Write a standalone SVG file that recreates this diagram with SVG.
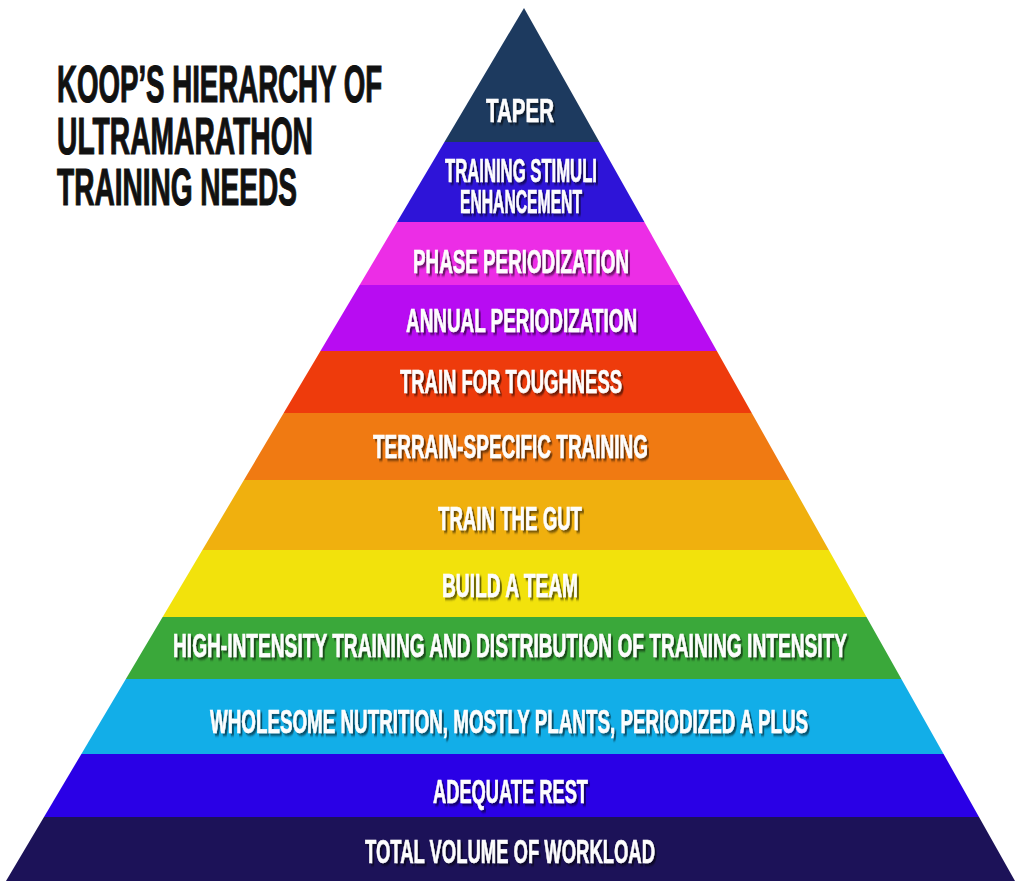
<svg xmlns="http://www.w3.org/2000/svg" width="1024" height="884" viewBox="0 0 1024 884">
<defs>
<clipPath id="tri"><polygon points="524,8 6,881 1015,881"/></clipPath>
<filter id="sh" x="-5%" y="-30%" width="110%" height="160%">
<feDropShadow dx="3.6" dy="2.5" stdDeviation="1.2" flood-color="#000" flood-opacity="0.55"/>
</filter>
<style>
.lbl{font-family:"Liberation Sans",Arial,sans-serif;font-weight:bold;font-size:33px;fill:#fdfdfd;stroke:#fdfdfd;stroke-width:0.6px;text-anchor:middle;filter:url(#sh)}
.ttl{font-family:"Liberation Sans",Arial,sans-serif;font-weight:bold;font-size:52px;fill:#111;stroke:#111;stroke-width:1.2px}
</style>
</defs>
<rect width="1024" height="884" fill="#fff"/>
<g id="title">
<text class="ttl" transform="translate(57,102) scale(0.535,1)" textLength="607.5" lengthAdjust="spacingAndGlyphs">KOOP’S HIERARCHY OF</text>
<text class="ttl" transform="translate(57,154) scale(0.535,1)" textLength="478.5" lengthAdjust="spacingAndGlyphs">ULTRAMARATHON</text>
<text class="ttl" transform="translate(57,205) scale(0.535,1)" textLength="448.6" lengthAdjust="spacingAndGlyphs">TRAINING NEEDS</text>
</g>
<g id="pyramid" clip-path="url(#tri)">
<g id="taper"><rect x="0" y="0" width="1024" height="142" fill="#1d3a5f"/></g>
<g id="stimuli"><rect x="0" y="142" width="1024" height="80" fill="#2e14d8"/></g>
<g id="phase"><rect x="0" y="222" width="1024" height="63" fill="#ec2de6"/></g>
<g id="annual"><rect x="0" y="285" width="1024" height="66" fill="#b80cf2"/></g>
<g id="toughness"><rect x="0" y="351" width="1024" height="62" fill="#ee3b0c"/></g>
<g id="terrain"><rect x="0" y="413" width="1024" height="67" fill="#f07a12"/></g>
<g id="gut"><rect x="0" y="480" width="1024" height="70" fill="#f0b00e"/></g>
<g id="team"><rect x="0" y="550" width="1024" height="67" fill="#f2e20c"/></g>
<g id="hit"><rect x="0" y="617" width="1024" height="62" fill="#3aa83a"/></g>
<g id="nutrition"><rect x="0" y="679" width="1024" height="75" fill="#12aee8"/></g>
<g id="rest"><rect x="0" y="754" width="1024" height="63" fill="#2a00e6"/></g>
<g id="volume"><rect x="0" y="817" width="1024" height="64" fill="#1c1258"/></g>
</g>
<g id="labels">
<text class="lbl" transform="translate(520,122) scale(0.56,1)" textLength="121.4" lengthAdjust="spacingAndGlyphs">TAPER</text>
<text class="lbl" transform="translate(521,182) scale(0.56,1)" textLength="271.4" lengthAdjust="spacingAndGlyphs">TRAINING STIMULI</text>
<text class="lbl" transform="translate(521,213) scale(0.56,1)" textLength="217.9" lengthAdjust="spacingAndGlyphs">ENHANCEMENT</text>
<text class="lbl" transform="translate(521,273) scale(0.56,1)" textLength="385.7" lengthAdjust="spacingAndGlyphs">PHASE PERIODIZATION</text>
<text class="lbl" transform="translate(521.5,332) scale(0.56,1)" textLength="412.5" lengthAdjust="spacingAndGlyphs">ANNUAL PERIODIZATION</text>
<text class="lbl" transform="translate(511,393) scale(0.56,1)" textLength="396.4" lengthAdjust="spacingAndGlyphs">TRAIN FOR TOUGHNESS</text>
<text class="lbl" transform="translate(510.5,458) scale(0.56,1)" textLength="491.1" lengthAdjust="spacingAndGlyphs">TERRAIN-SPECIFIC TRAINING</text>
<text class="lbl" transform="translate(510,530) scale(0.56,1)" textLength="257.1" lengthAdjust="spacingAndGlyphs">TRAIN THE GUT</text>
<text class="lbl" transform="translate(510,597) scale(0.56,1)" textLength="242.9" lengthAdjust="spacingAndGlyphs">BUILD A TEAM</text>
<text class="lbl" transform="translate(510,657) scale(0.56,1)" textLength="1203.6" lengthAdjust="spacingAndGlyphs">HIGH-INTENSITY TRAINING AND DISTRIBUTION OF TRAINING INTENSITY</text>
<text class="lbl" transform="translate(509,733) scale(0.56,1)" textLength="1067.9" lengthAdjust="spacingAndGlyphs">WHOLESOME NUTRITION, MOSTLY PLANTS, PERIODIZED A PLUS</text>
<text class="lbl" transform="translate(510.5,803) scale(0.56,1)" textLength="276.8" lengthAdjust="spacingAndGlyphs">ADEQUATE REST</text>
<text class="lbl" transform="translate(510,863) scale(0.56,1)" textLength="517.9" lengthAdjust="spacingAndGlyphs">TOTAL VOLUME OF WORKLOAD</text>
</g>
<g id="connectors"/>
</svg>
